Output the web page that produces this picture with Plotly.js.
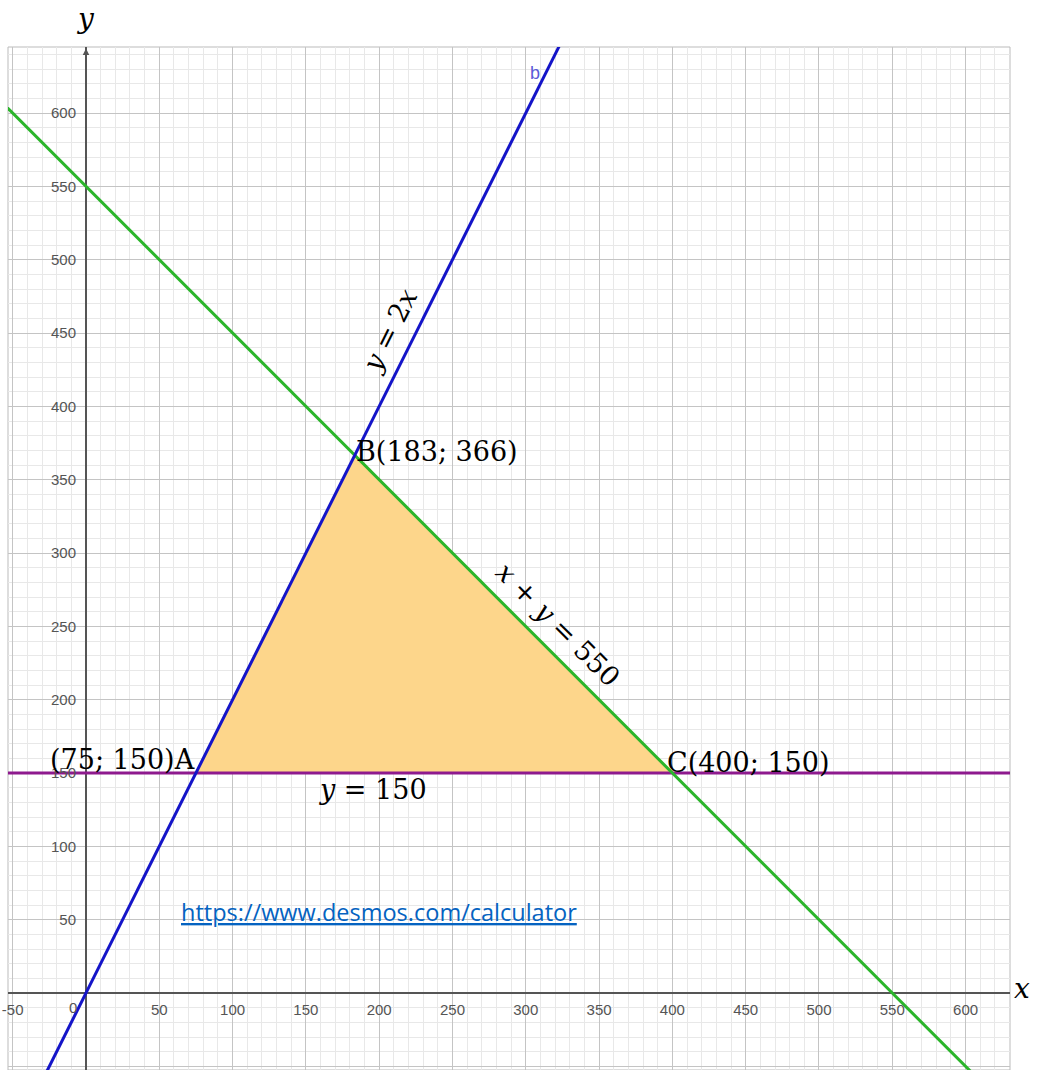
<!DOCTYPE html>
<html>
<head>
<meta charset="utf-8">
<script src="https://cdn.plot.ly/plotly-3.0.1.min.js"></script>
<style>html,body{margin:0;padding:0;background:#fff;}#chart{width:1037px;height:1070px;}</style>
</head>
<body>
<div id="chart"></div>
<script>
// Data
const blueX = [-30, 330];           // y = 2x
const blueY = [-60, 660];
const greenX = [-60, 620];          // x + y = 550
const greenY = [610, -70];
const purpleX = [-60, 640];         // y = 150
const purpleY = [150, 150];
const regionX = [75, 183.3, 400, 75]; // feasible triangle A, B, C
const regionY = [150, 366.7, 150, 150];

const xTickVals = [-50, 50, 100, 150, 200, 250, 300, 350, 400, 450, 500, 550, 600];
const xTickText = ['-50', '50', '100', '150', '200', '250', '300', '350', '400', '450', '500', '550', '600'];
const yTickVals = [-50, 50, 100, 150, 200, 250, 300, 350, 400, 450, 500, 550, 600];
const yTickText = ['-50', '50', '100', '150', '200', '250', '300', '350', '400', '450', '500', '550', '600'];

const pointLabels = [
  {x: 76, y: 159, text: '(75; 150)A', xanchor: 'right'},
  {x: 183, y: 369, text: 'B(183; 366)', xanchor: 'left'},
  {x: 395, y: 157, text: 'C(400; 150)', xanchor: 'left'}
];
const lineLabels = [
  {x: 196, y: 139, text: '<i>y</i> = 150', angle: 0},
  {x: 207, y: 452, text: '<i>y</i> = 2<i>x</i>', angle: -63.4},
  {x: 322, y: 251, text: '<i>x</i> + <i>y</i> = 550', angle: 45}
];

const serif = 'DejaVu Serif, Liberation Serif, serif';
const sans = 'Liberation Sans, Arial, sans-serif';

const traces = [
  {x: regionX, y: regionY, type: 'scatter', mode: 'lines', fill: 'toself',
   fillcolor: '#fdd68b', line: {color: '#f5ad10', width: 1.5}, hoverinfo: 'skip'},
  {x: purpleX, y: purpleY, type: 'scatter', mode: 'lines', line: {color: '#8e1a8e', width: 3}},
  {x: greenX, y: greenY, type: 'scatter', mode: 'lines', line: {color: '#2bb52b', width: 3}},
  {x: blueX, y: blueY, type: 'scatter', mode: 'lines', line: {color: '#1414c8', width: 3}}
];

const annotations = [];
pointLabels.forEach(p => annotations.push({x: p.x, y: p.y, xref: 'x', yref: 'y', text: p.text,
  showarrow: false, xanchor: p.xanchor, yanchor: 'middle', font: {family: serif, size: 27, color: '#000'}}));
lineLabels.forEach(p => annotations.push({x: p.x, y: p.y, xref: 'x', yref: 'y', text: p.text,
  showarrow: false, textangle: p.angle, font: {family: serif, size: 27, color: '#000'}}));
annotations.push({x: -9, y: 0, xref: 'x', yref: 'y', text: '0', showarrow: false, yanchor: 'middle', yshift: -14,
  font: {family: sans, size: 15, color: '#555'}});
annotations.push({x: 306, y: 627, xref: 'x', yref: 'y', text: 'b', showarrow: false,
  font: {family: sans, size: 18, color: '#5a5ad8'}});
annotations.push({x: 200, y: 55, xref: 'x', yref: 'y', text: '<u>https://www.desmos.com/calculator</u>', showarrow: false,
  font: {family: 'Open Sans, Liberation Sans, sans-serif', size: 23.5, color: '#0563c1'}});
annotations.push({x: 0, y: 1, xref: 'x', yref: 'paper', yanchor: 'middle', yshift: 29, text: '<i>y</i>', showarrow: false,
  font: {family: serif, size: 28, color: '#000'}});
annotations.push({x: 1, y: 0, xref: 'paper', yref: 'y', xanchor: 'left', yanchor: 'middle', xshift: 2, yshift: 5,
  text: '<i>x</i>', showarrow: false, font: {family: serif, size: 28, color: '#000'}});
// arrow on y axis
annotations.push({x: 0, y: 644, ax: 0, ay: 630, xref: 'x', yref: 'y', axref: 'x', ayref: 'y', text: '',
  showarrow: true, arrowhead: 2, arrowsize: 1, arrowwidth: 1.3, arrowcolor: '#555'});

const layout = {
  width: 1037, height: 1070,
  margin: {l: 8, r: 27, t: 47, b: 0, pad: 0},
  paper_bgcolor: '#fff', plot_bgcolor: '#fff',
  showlegend: false,
  xaxis: {range: [-53.2, 630.3], anchor: 'free', position: 52.5 / 697.5,
    tickmode: 'array', tickvals: xTickVals, ticktext: xTickText,
    ticks: '', ticklabelstandoff: 6, showline: false, zeroline: true, zerolinecolor: '#555', zerolinewidth: 1.5,
    showgrid: true, gridcolor: '#c4c4c4', gridwidth: 1,
    minor: {tick0: 0, dtick: 10, showgrid: true, gridcolor: '#e8e8e8', gridwidth: 1},
    tickfont: {family: sans, size: 15, color: '#555'},
    fixedrange: true},
  yaxis: {range: [-52.5, 645], anchor: 'free', position: 53.2 / 683.5,
    tickmode: 'array', tickvals: yTickVals, ticktext: yTickText,
    ticks: '', ticklabelstandoff: 10, showline: false, zeroline: true, zerolinecolor: '#555', zerolinewidth: 1.5,
    showgrid: true, gridcolor: '#c4c4c4', gridwidth: 1,
    minor: {tick0: 0, dtick: 10, showgrid: true, gridcolor: '#e8e8e8', gridwidth: 1},
    tickfont: {family: sans, size: 15, color: '#555'},
    fixedrange: true},
  shapes: [{type: 'rect', xref: 'paper', yref: 'paper', x0: 0, x1: 1, y0: 0, y1: 1,
    line: {color: '#bbbbbb', width: 1}, layer: 'below'}],
  annotations: annotations
};

Plotly.newPlot('chart', traces, layout, {displayModeBar: false, staticPlot: true});
</script>
</body>
</html>
